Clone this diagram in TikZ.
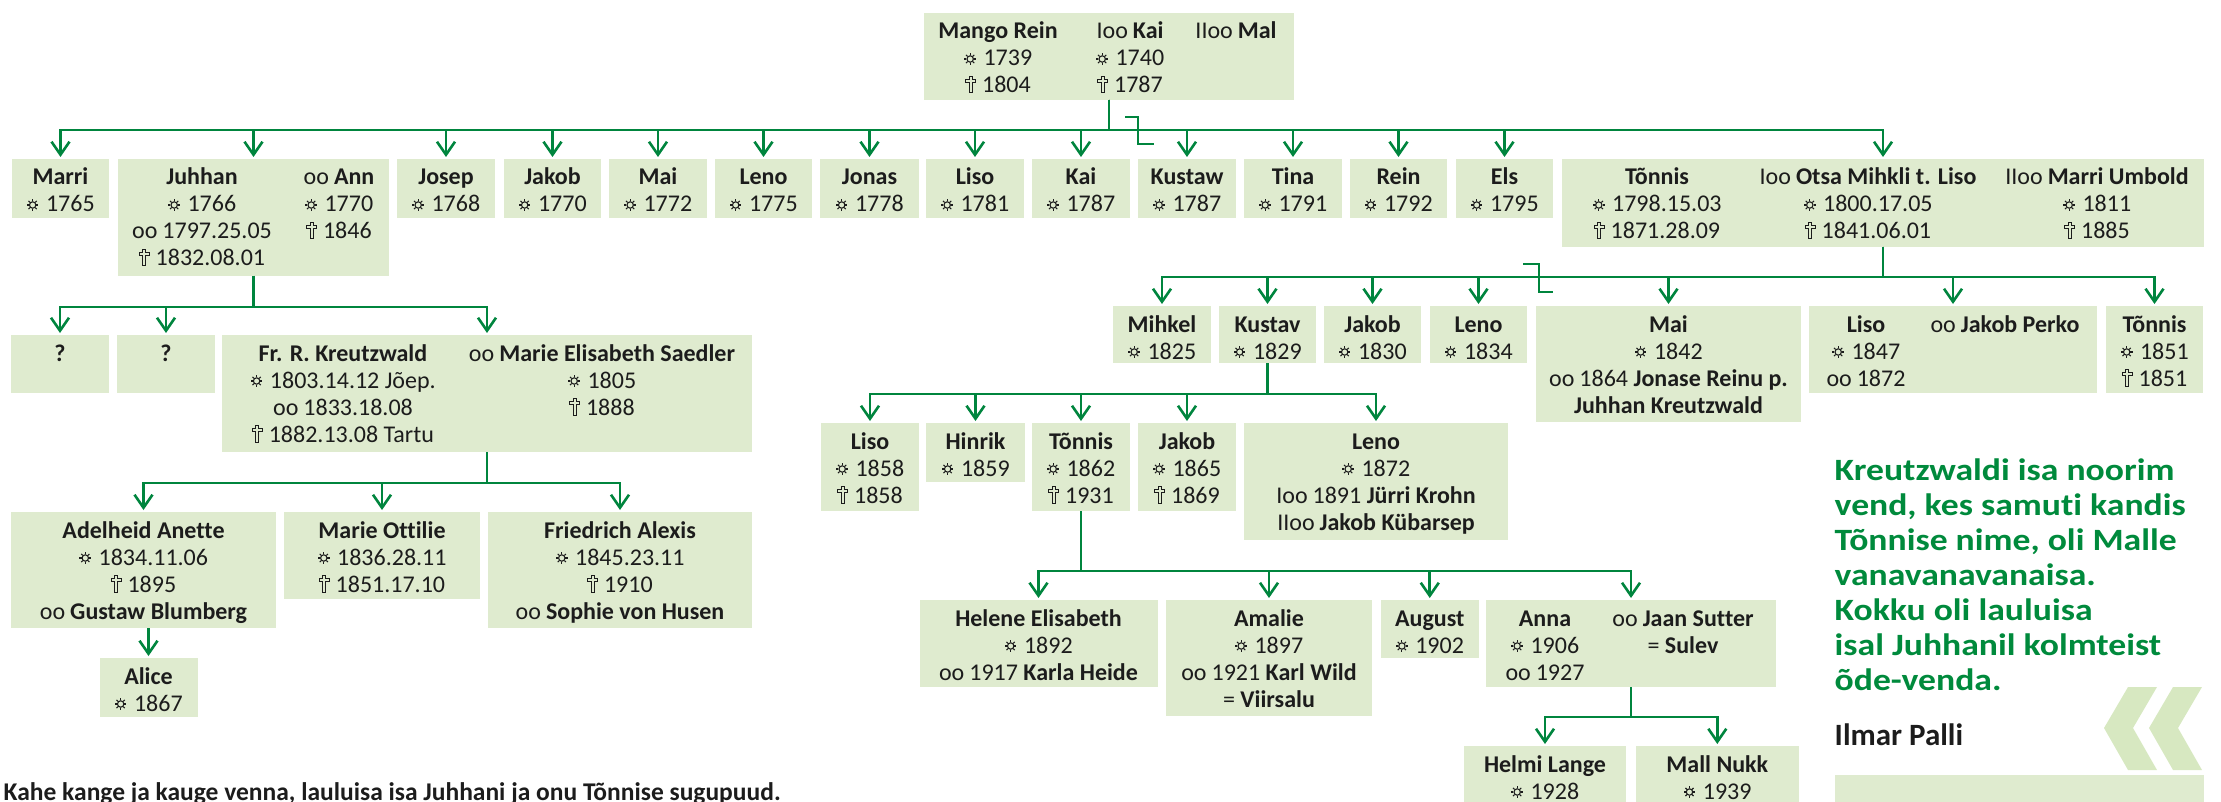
\documentclass[tikz,border=0pt]{standalone}
\usepackage{fontspec}
\setmainfont[Ligatures=NoCommon]{Carlito}
\newfontfamily\quotefnt[FakeStretch=1.15,Ligatures=NoCommon]{Carlito}
\usetikzlibrary{arrows.meta}
\definecolor{boxfill}{RGB}{223,235,207}
\definecolor{lgreen}{RGB}{0,133,62}
\definecolor{qgreen}{RGB}{0,138,60}
\definecolor{txtc}{RGB}{28,28,28}
\definecolor{chevc}{RGB}{215,232,193}
\newcommand{\bsun}{\tikz[baseline=0pt,x=1pt,y=1pt,line width=1.1pt,draw=txtc]{\draw (5.5,7) circle (3.2);
  \foreach \ang in {0,45,...,315} \draw (5.5,7) ++(\ang:3.7) -- ++(\ang:2.1);}\hspace{7pt}}
\newcommand{\dcross}{\tikz[baseline=0pt,x=1pt,y=1pt,line width=1pt,draw=txtc,line join=miter]{\draw (3.6,0) -- (6.6,0) -- (6.6,10.2) -- (10,10.2) -- (10,13.2) -- (6.6,13.2) -- (6.6,16.5) -- (3.6,16.5) -- (3.6,13.2) -- (0.2,13.2) -- (0.2,10.2) -- (3.6,10.2) -- cycle;}\hspace{6pt}}
\newcommand{\mrg}{oo\hspace{5pt}}
\newcommand{\colm}[1]{\begin{tabular}[t]{@{}c@{}}#1\end{tabular}}
\newcommand{\bx}[5]{\node[fambox,minimum width={#4pt-#2pt},minimum height={#5pt-#3pt}] (#1) at (#2,#3) {};}
\newcommand{\ct}[4]{\node[coltext] (#1) at (#2,#3) {\colm{#4}};}
\newcommand{\pb}[6]{\bx{#1}{#2}{#3}{#4}{#5}\node[coltext] (#1-t) at ({(#2+#4)/2},{#3+26}) {\colm{#6}};}
\begin{document}
\begin{tikzpicture}[x=1pt,y=-1pt,
  font=\fontsize{24}{27}\selectfont, text=txtc,
  fambox/.style={fill=boxfill,draw=none,inner sep=0pt,outer sep=0pt,anchor=north west},
  coltext/.style={anchor=base,inner sep=0pt},
  conn/.style={draw=lgreen,line width=2.6pt,line join=miter,-{Straight Barb[length=13pt,width=18pt]},shorten >=2pt},
  jog/.style={draw=lgreen,line width=2.6pt,line join=miter}]
\useasboundingbox (0,0) rectangle (2221,802);

% ---- generation 0
\bx{top}{924}{13}{1294}{100}
\ct{top-a}{998}{39}{\textbf{Mango Rein}\\\bsun1739\\\dcross1804}
\ct{top-b}{1130}{39}{I\mrg\textbf{Kai}\\\bsun1740\\\dcross1787}
\ct{top-c}{1236}{39}{II\mrg\textbf{Mal}}

% ---- generation 1
\pb{marri}{12}{159}{109}{218}{\textbf{Marri}\\\bsun1765}
\bx{juhhan}{118}{159}{389}{276}
\ct{juhhan-a}{202}{185}{\textbf{Juhhan}\\\bsun1766\\\mrg1797.25.05\\\dcross1832.08.01}
\ct{juhhan-b}{339}{185}{\mrg\textbf{Ann}\\\bsun1770\\\dcross1846}
\pb{josep}{397}{159}{495}{218}{\textbf{Josep}\\\bsun1768}
\pb{jakob}{504}{159}{601}{218}{\textbf{Jakob}\\\bsun1770}
\pb{mai}{609}{159}{707}{218}{\textbf{Mai}\\\bsun1772}
\pb{leno}{715}{159}{812}{218}{\textbf{Leno}\\\bsun1775}
\pb{jonas}{820}{159}{919}{218}{\textbf{Jonas}\\\bsun1778}
\pb{liso}{926}{159}{1024}{218}{\textbf{Liso}\\\bsun1781}
\pb{kai}{1032}{159}{1130}{218}{\textbf{Kai}\\\bsun1787}
\pb{kustaw}{1138}{159}{1236}{218}{\textbf{Kustaw}\\\bsun1787}
\pb{tina}{1244}{159}{1342}{218}{\textbf{Tina}\\\bsun1791}
\pb{rein}{1350}{159}{1447}{218}{\textbf{Rein}\\\bsun1792}
\pb{els}{1456}{159}{1553}{218}{\textbf{Els}\\\bsun1795}
\bx{tonnis}{1562}{159}{2204}{247}
\ct{tonnis-a}{1657}{185}{\textbf{Tõnnis}\\\bsun1798.15.03\\\dcross1871.28.09}
\ct{tonnis-b}{1868}{185}{I\mrg\textbf{Otsa Mihkli t. Liso}\\\bsun1800.17.05\\\dcross1841.06.01}
\ct{tonnis-c}{2097}{185}{II\mrg\textbf{Marri Umbold}\\\bsun1811\\\dcross1885}

% ---- Juhhan's children
\pb{qa}{11}{335}{109}{393}{\textbf{?}}
\pb{qb}{117}{335}{215}{393}{\textbf{?}}
\bx{kreutz}{222}{335}{752}{452}
\ct{kreutz-a}{343}{361}{\textbf{Fr. R. Kreutzwald}\\\bsun1803.14.12 Jõep.\\\mrg1833.18.08\\\dcross1882.13.08 Tartu}
\ct{kreutz-b}{602}{361}{\mrg\textbf{Marie Elisabeth Saedler}\\\bsun1805\\\dcross1888}

% ---- Kreutzwald's children
\pb{adelheid}{11}{512}{276}{628}{\textbf{Adelheid Anette}\\\bsun1834.11.06\\\dcross1895\\\mrg\textbf{Gustaw Blumberg}}
\pb{ottilie}{284}{512}{480}{599}{\textbf{Marie Ottilie}\\\bsun1836.28.11\\\dcross1851.17.10}
\pb{friedrich}{488}{512}{752}{628}{\textbf{Friedrich Alexis}\\\bsun1845.23.11\\\dcross1910\\\mrg\textbf{Sophie von Husen}}
\pb{alice}{99.5}{658}{197.5}{717}{\textbf{Alice}\\\bsun1867}

% ---- Tõnnis' children
\pb{mihkel}{1113}{306}{1211}{363}{\textbf{Mihkel}\\\bsun1825}
\pb{kustav}{1219}{306}{1316}{363}{\textbf{Kustav}\\\bsun1829}
\pb{jakobB}{1324}{306}{1421}{363}{\textbf{Jakob}\\\bsun1830}
\pb{lenoB}{1430}{306}{1527}{363}{\textbf{Leno}\\\bsun1834}
\pb{maiB}{1536}{306}{1801}{422}{\textbf{Mai}\\\bsun1842\\\mrg1864 \textbf{Jonase Reinu p.}\\\textbf{Juhhan Kreutzwald}}
\bx{lisoB}{1809}{306}{2097}{393}
\ct{lisoB-a}{1866}{332}{\textbf{Liso}\\\bsun1847\\\mrg1872}
\ct{lisoB-b}{2005}{332}{\mrg\textbf{Jakob Perko}}
\pb{tonnisB}{2106}{306}{2203}{393}{\textbf{Tõnnis}\\\bsun1851\\\dcross1851}

% ---- Kustav's children
\pb{lisoC}{821}{423}{919}{511}{\textbf{Liso}\\\bsun1858\\\dcross1858}
\pb{hinrik}{926}{423}{1025}{482}{\textbf{Hinrik}\\\bsun1859}
\pb{tonnisC}{1032}{423}{1130}{511}{\textbf{Tõnnis}\\\bsun1862\\\dcross1931}
\pb{jakobC}{1138}{423}{1236}{511}{\textbf{Jakob}\\\bsun1865\\\dcross1869}
\pb{lenoC}{1244}{423}{1508}{540}{\textbf{Leno}\\\bsun1872\\I\mrg1891 \textbf{Jürri Krohn}\\II\mrg\textbf{Jakob Kübarsep}}

% ---- Tõnnis (1862) children
\pb{helene}{919.5}{600}{1157.5}{687}{\textbf{Helene Elisabeth}\\\bsun1892\\\mrg1917 \textbf{Karla Heide}}
\pb{amalie}{1166}{600}{1372}{716}{\textbf{Amalie}\\\bsun1897\\\mrg1921 \textbf{Karl Wild}\\= \textbf{Viirsalu}}
\pb{august}{1381}{600}{1478.5}{658}{\textbf{August}\\\bsun1902}
\bx{anna}{1486}{600}{1776}{687}
\ct{anna-a}{1545}{626}{\textbf{Anna}\\\bsun1906\\\mrg1927}
\ct{anna-b}{1683}{626}{\mrg\textbf{Jaan Sutter}\\= \textbf{Sulev}}

% ---- Anna's children
\pb{helmi}{1464}{746}{1626}{802}{\textbf{Helmi Lange}\\\bsun1928}
\pb{mall}{1635.6}{746}{1799}{802}{\textbf{Mall Nukk}\\\bsun1939}

% ---- connectors
\coordinate (bus0) at (0,130);
\coordinate (bus1) at (0,307);
\coordinate (bus2) at (0,483);
\coordinate (bus3) at (0,277);
\coordinate (bus4) at (0,394);
\coordinate (bus5) at (0,571);
\coordinate (bus6) at (0,717);
\foreach \ch in {marri,juhhan,josep,jakob,mai,leno,jonas,liso,kai,kustaw,tina,rein,els,tonnis}
  \draw[conn] (top.south) |- (\ch.north |- bus0) -- (\ch.north);
\foreach \ch in {qa,qb,kreutz}
  \draw[conn] (juhhan.south) |- (\ch.north |- bus1) -- (\ch.north);
\foreach \ch in {adelheid,ottilie,friedrich}
  \draw[conn] (kreutz.south) |- (\ch.north |- bus2) -- (\ch.north);
\draw[conn] (adelheid.south -| alice.north) -- (alice.north);
\foreach \ch in {mihkel,kustav,jakobB,lenoB,maiB,lisoB,tonnisB}
  \draw[conn] (tonnis.south) |- (\ch.north |- bus3) -- (\ch.north);
\foreach \ch in {lisoC,hinrik,tonnisC,jakobC,lenoC}
  \draw[conn] (kustav.south) |- (\ch.north |- bus4) -- (\ch.north);
\foreach \ch in {helene,amalie,august,anna}
  \draw[conn] (tonnisC.south) |- (\ch.north |- bus5) -- (\ch.north);
\foreach \ch in {helmi,mall}
  \draw[conn] (anna.south) |- (\ch.north |- bus6) -- (\ch.north);

% ---- marriage jogs
\coordinate (ja1) at (1125,117);
\coordinate (ja2) at (1154,144);
\draw[jog] (ja1) -- ++(13,0) |- (ja2);
\coordinate (jb1) at (1523,264);
\coordinate (jb2) at (1553,292);
\draw[jog] (jb1) -- ++(16,0) |- (jb2);

% ---- quote
\node[anchor=base west,inner sep=0pt,text=qgreen,font=\quotefnt\bfseries\fontsize{31}{35}\selectfont] (quote) at (1834.5,480)
  {\begin{tabular}[t]{@{}l@{}}Kreutzwaldi isa noorim\\vend, kes samuti kandis\\Tõnnise nime, oli Malle\\vanavanavanaisa.\\Kokku oli lauluisa\\isal Juhhanil kolmteist\\õde-venda.\end{tabular}};
\node[anchor=base west,inner sep=0pt,font=\bfseries\fontsize{31}{35}\selectfont] (author) at (1834.5,745) {Ilmar Palli};
\fill[chevc] (2128,687) -- (2157,687) -- (2133,728) -- (2157,770) -- (2128,770) -- (2104,728) -- cycle;
\fill[chevc] (2173,687) -- (2202,687) -- (2178,728) -- (2202,770) -- (2173,770) -- (2149,728) -- cycle;
\fill[boxfill] (1834.5,775) rectangle (2204,802);

% ---- caption
\node[anchor=base west,inner sep=0pt,font=\bfseries\fontsize{25.5}{30}\selectfont] (caption) at (3.5,800)
  {Kahe kange ja kauge venna, lauluisa isa Juhhani ja onu Tõnnise sugupuud.};
\end{tikzpicture}
\end{document}
